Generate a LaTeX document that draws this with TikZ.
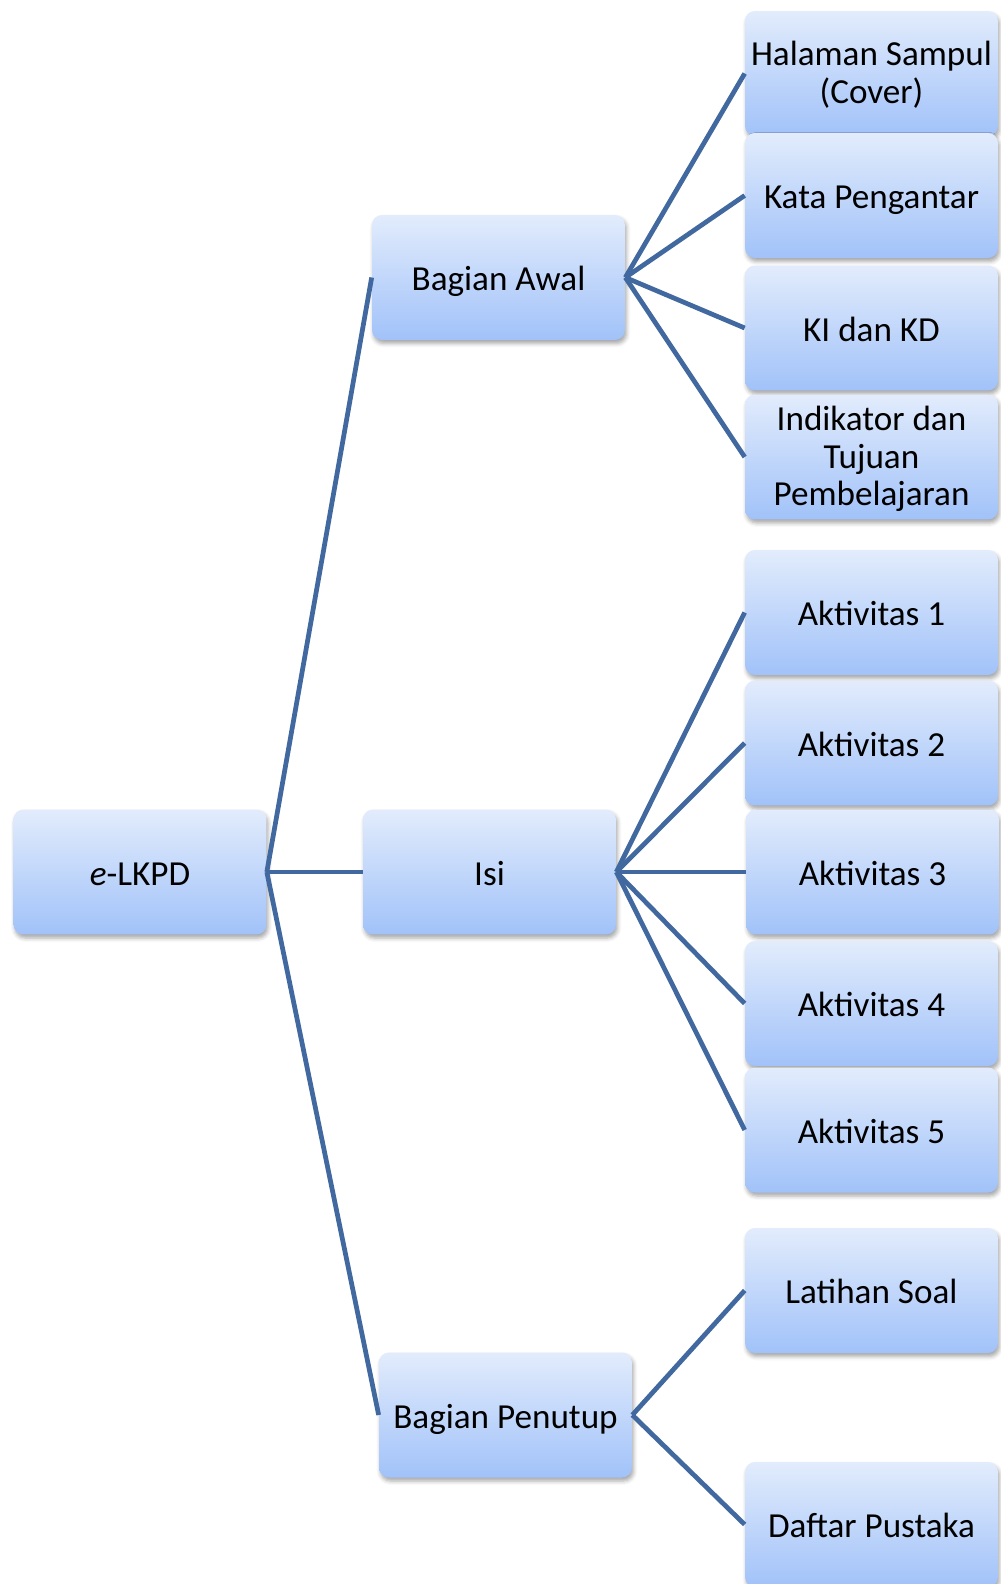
\documentclass[tikz,border=0pt]{standalone}
\usepackage{fontspec}
\setmainfont{Carlito}
\usetikzlibrary{shadows.blur}
\definecolor{boxtop}{HTML}{E2ECFC}
\definecolor{boxbot}{HTML}{A1C2F9}
\definecolor{linkc}{HTML}{41699F}
\begin{document}
\begin{tikzpicture}[x=0.02cm,y=-0.02cm,
  box/.style={rectangle, rounded corners=0.2cm, minimum width=5.06cm, minimum height=2.5cm,
    inner sep=2pt, align=center, top color=boxtop, bottom color=boxbot, draw=none,
    blur shadow={shadow xshift=0.03cm, shadow yshift=-0.07cm, shadow blur radius=0.08cm, shadow opacity=35},
    font=\fontsize{20}{21.6}\selectfont},
  one/.style={box, text height=19pt, text depth=4pt},
  link/.style={draw=linkc, line width=0.095cm}]
\useasboundingbox (0,0) rectangle (1000,1584);
\node[one] (elkpd) at (140,872) {\textit{e}-LKPD};
\node[one] (awal) at (498.5,277.5) {Bagian Awal};
\node[one] (isi) at (489.5,872) {Isi};
\node[one] (penutup) at (505.5,1415) {Bagian Penutup};
\node[box] (hal) at (871.5,73.5) {\rule{0pt}{15.5pt}Halaman Sampul\\(Cover)};
\node[one] (kata) at (871.5,195.5) {Kata Pengantar};
\node[one] (ki) at (871.5,328) {KI dan KD};
\node[box] (ind) at (871.5,457) {\rule{0pt}{16pt}Indikator dan\\Tujuan\\Pembelajaran};
\node[one] (a1) at (871.5,612.5) {Aktivitas 1};
\node[one] (a2) at (871.5,743) {Aktivitas 2};
\node[one] (a3) at (872.5,872) {Aktivitas 3};
\node[one] (a4) at (871.5,1003.5) {Aktivitas 4};
\node[one] (a5) at (871.5,1130) {Aktivitas 5};
\node[one] (lat) at (871.5,1290.5) {Latihan Soal};
\node[one] (daf) at (871.5,1524.5) {Daftar Pustaka};
\foreach \c in {awal,isi,penutup} \draw[link] (elkpd.east) -- (\c.west);
\foreach \c in {hal,kata,ki,ind} \draw[link] (awal.east) -- (\c.west);
\foreach \c in {a1,a2,a3,a4,a5} \draw[link] (isi.east) -- (\c.west);
\foreach \c in {lat,daf} \draw[link] (penutup.east) -- (\c.west);
\end{tikzpicture}
\end{document}
